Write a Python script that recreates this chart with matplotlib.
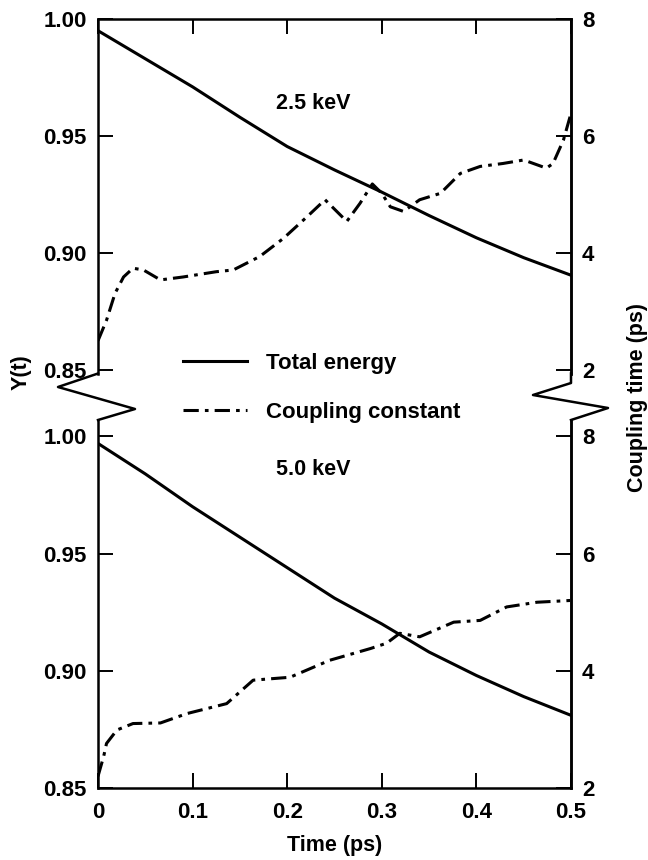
import matplotlib
matplotlib.use("Agg")
import matplotlib.pyplot as plt
from matplotlib.lines import Line2D

plt.rcParams['font.family'] = ['Liberation Sans', 'DejaVu Sans']
plt.rcParams['font.weight'] = 'bold'

# total energy Y(t)
t_energy = [0.0, 0.05, 0.1, 0.15, 0.2, 0.25, 0.3, 0.35, 0.4, 0.45, 0.5]
energy_25 = [0.995, 0.983, 0.971, 0.958, 0.9455, 0.9355, 0.926, 0.916, 0.9065, 0.898, 0.8905]
energy_50 = [0.997, 0.984, 0.970, 0.957, 0.944, 0.931, 0.920, 0.908, 0.898, 0.889, 0.881]

# coupling time (ps)
t_coup_25 = [0.0, 0.009, 0.018, 0.027, 0.037, 0.048, 0.066, 0.090, 0.125, 0.143,
             0.171, 0.196, 0.221, 0.240, 0.263, 0.277, 0.290, 0.300, 0.309, 0.323,
             0.340, 0.362, 0.383, 0.404, 0.428, 0.450, 0.474, 0.481, 0.492, 0.499]
coup_25 = [2.5, 2.85, 3.31, 3.59, 3.74, 3.71, 3.54, 3.59, 3.68, 3.71,
           3.94, 4.25, 4.62, 4.91, 4.54, 4.85, 5.18, 5.02, 4.79, 4.71,
           4.91, 5.02, 5.36, 5.48, 5.53, 5.59, 5.45, 5.53, 5.93, 6.33]
t_coup_50 = [0.0, 0.006, 0.009, 0.020, 0.037, 0.066, 0.094, 0.136, 0.164, 0.203,
             0.245, 0.288, 0.305, 0.319, 0.340, 0.376, 0.404, 0.432, 0.464, 0.499]
coup_50 = [2.2, 2.54, 2.76, 2.99, 3.10, 3.11, 3.27, 3.44, 3.84, 3.89,
           4.18, 4.38, 4.47, 4.64, 4.58, 4.83, 4.86, 5.09, 5.17, 5.20]

x_ticks = [0, 0.1, 0.2, 0.3, 0.4, 0.5]
y_ticks = [0.85, 0.90, 0.95, 1.00]
r_ticks = [2, 4, 6, 8]

W, H = 648, 860
fig = plt.figure(figsize=(W / 100, H / 100), dpi=100)

def fx(x):
    return x / W

def fy(y):
    return 1 - y / H

lw = 1.8
dashdot = (0, (5, 2, 1.2, 2))
fs = 16

# top panel: y from 0.8485 to 1.0 -> px 373.5 to 19
ax1 = fig.add_axes([fx(98), fy(373.5), fx(571) - fx(98), fy(19) - fy(373.5)])
ax1.set_ylim(0.8485, 1.0)
# bottom panel: 0.85 to 1.007 -> px 788 to 420
ax2 = fig.add_axes([fx(98), fy(788), fx(571) - fx(98), fy(420) - fy(788)])
ax2.set_ylim(0.85, 1.007)

def to_right(lo, hi):
    return 2 + (lo - 0.85) / 0.15 * 6, 2 + (hi - 0.85) / 0.15 * 6

for ax in (ax1, ax2):
    ax.set_xlim(0, 0.5)
    ax.set_xticks(x_ticks)
    ax.set_yticks(y_ticks)
    ax.set_yticklabels(['%.2f' % v for v in y_ticks])
    ax.tick_params(direction='in', length=11, width=1.4, labelsize=fs, pad=8)
    for s in ax.spines.values():
        s.set_linewidth(lw)

ax1.spines['bottom'].set_visible(False)
ax1.xaxis.set_ticks_position('top')
ax1.tick_params(axis='x', labeltop=False, labelbottom=False)
ax2.spines['top'].set_visible(False)
ax2.set_xticklabels(['0', '0.1', '0.2', '0.3', '0.4', '0.5'])
ax2.tick_params(axis='x', pad=10)

ax1r = ax1.twinx()
ax2r = ax2.twinx()
ax1r.set_ylim(*to_right(0.8485, 1.0))
ax2r.set_ylim(*to_right(0.85, 1.007))
for ax in (ax1r, ax2r):
    ax.set_yticks(r_ticks)
    ax.tick_params(direction='in', length=11, width=1.4, labelsize=fs, pad=8)
    for s in ax.spines.values():
        s.set_visible(False)
    ax.spines['right'].set_visible(True)
    ax.spines['right'].set_linewidth(lw)

e1, = ax1.plot(t_energy, energy_25, color='black', lw=2.2, label='Total energy')
c1, = ax1r.plot(t_coup_25, coup_25, color='black', lw=2.2, linestyle=dashdot,
                label='Coupling constant')
ax2.plot(t_energy, energy_50, color='black', lw=2.2)
ax2r.plot(t_coup_50, coup_50, color='black', lw=2.2, linestyle=dashdot)

ax1.text(0.228, 0.964, '2.5 keV', fontsize=15.5, fontweight='bold', ha='center', va='center')
ax2.text(0.228, 0.986, '5.0 keV', fontsize=15.5, fontweight='bold', ha='center', va='center')

# axis break marks
left_zz = [(98, 373.5), (58, 387), (135, 409), (98, 420)]
right_zz = [(571, 373.5), (571, 383), (533, 395), (608, 408), (571, 420)]
for pts in (left_zz, right_zz):
    fig.add_artist(Line2D([fx(p[0]) for p in pts], [fy(p[1]) for p in pts],
                          color='black', lw=lw, transform=fig.transFigure))

fig.legend([e1, c1], ['Total energy', 'Coupling constant'], loc='upper left',
           bbox_to_anchor=(fx(183), fy(353)), frameon=False, fontsize=fs,
           handlelength=2.9, handletextpad=0.85, labelspacing=1.25,
           borderpad=0, borderaxespad=0)

fig.text(fx(21), fy(372), 'Y(t)', rotation=90, fontsize=15.5, fontweight='bold',
         ha='center', va='center')
fig.text(fx(638), fy(397), 'Coupling time (ps)', rotation=90, fontsize=15.5,
         fontweight='bold', ha='center', va='center')
fig.text(fx(335), fy(845), 'Time (ps)', fontsize=15.5, fontweight='bold',
         ha='center', va='center')

fig.savefig('out.png', dpi=100)
